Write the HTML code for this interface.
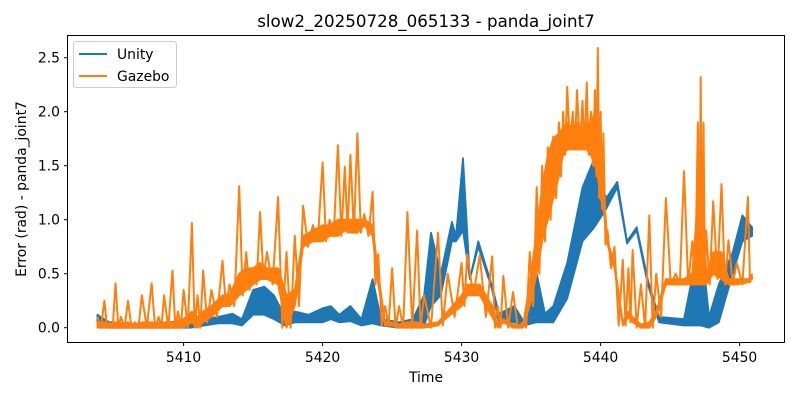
<!DOCTYPE html>
<html><head><meta charset="utf-8">
<style>
html,body{margin:0;padding:0;background:#fff;}
svg{display:block;font-family:"DejaVu Sans","Liberation Sans",sans-serif;}
</style></head>
<body>
<svg id="chart" width="800" height="400" viewBox="0 0 800 400" xmlns="http://www.w3.org/2000/svg">
<rect x="0" y="0" width="800" height="400" fill="#fff"/>
<text x="426" y="27" font-size="16.7" text-anchor="middle" fill="#000">slow2_20250728_065133 - panda_joint7</text>
<g id="series"></g>
<g id="axes"></g>
<rect x="67.5" y="35.5" width="717" height="307" fill="none" stroke="#000" stroke-width="1"/>
<text x="426" y="382" font-size="13.9" text-anchor="middle">Time</text>
<text transform="translate(26,189) rotate(-90)" font-size="13.9" text-anchor="middle">Error (rad) - panda_joint7</text>
<g>
<rect x="73.5" y="41.5" width="103" height="46" rx="3" fill="#fff" fill-opacity="0.8" stroke="#ccc"/>
<g>
<line x1="79" y1="54" x2="107" y2="54" stroke="#1f77b4" stroke-width="2"/>
<text x="117" y="59" font-size="13.9">Unity</text></g>
<g>
<line x1="79" y1="76" x2="107" y2="76" stroke="#ff7f0e" stroke-width="2"/>
<text x="117" y="81" font-size="13.9">Gazebo</text></g>
</g>
</svg>
<script>
const xTicks = [5410, 5420, 5430, 5440, 5450];
const yTicks = [0.0, 0.5, 1.0, 1.5, 2.0, 2.5];
const yTickLabels = ["0.0", "0.5", "1.0", "1.5", "2.0", "2.5"];
const unityT = [5403.8,5404.5,5405.5,5407,5408.5,5409.5,5410.5,5411.5,5412.5,5413.5,5414.2,5415.0,5415.8,5416.5,5417.3,5418.0,5419.0,5420.0,5420.6,5421.2,5422.0,5422.8,5423.6,5424.2,5425.5,5426.5,5427.3,5427.8,5428.5,5429.3,5429.6,5430.1,5430.6,5431.2,5432.2,5432.7,5433.8,5434.5,5435.4,5436.0,5436.6,5437.6,5438.7,5439.5,5440.4,5441.2,5441.9,5442.6,5443.4,5444.2,5446.0,5447.2,5447.8,5448.5,5449.5,5450.2,5450.9];
const unityHi = [0.12,0.06,0.03,0.04,0.04,0.06,0.05,0.08,0.1,0.13,0.08,0.35,0.38,0.3,0.1,0.15,0.12,0.18,0.2,0.12,0.2,0.08,0.45,0.08,0.05,0.08,0.3,0.88,0.5,0.98,0.85,1.57,0.45,0.8,0.38,0.13,0.2,0.05,0.5,0.13,0.2,0.6,1.3,1.55,1.2,1.35,0.8,0.93,0.44,0.1,0.08,0.86,0.1,0.4,0.7,1.04,0.93];
const unityLo = [0.02,0.0,0.0,0.0,0.0,0.0,0.0,0.02,0.04,0.04,0.02,0.12,0.12,0.08,0.02,0.05,0.05,0.05,0.08,0.05,0.06,0.02,0.04,0.02,0.0,0.02,0.02,0.2,0.3,0.8,0.8,0.9,0.45,0.75,0.35,0.05,0.05,0.02,0.05,0.05,0.05,0.27,0.8,0.92,1.1,1.3,0.78,0.9,0.4,0.05,0.02,0.02,0.0,0.05,0.5,0.8,0.85];
const gazeboT = [5403.8,5404.3,5404.7,5405.1,5405.5,5406.0,5406.5,5407.0,5407.7,5408.2,5408.6,5409.2,5409.6,5410.0,5410.6,5411.0,5411.4,5412.0,5412.8,5413.3,5414.0,5414.5,5415.0,5415.5,5416.0,5416.8,5417.4,5418.0,5418.6,5419.3,5420.0,5420.5,5421.1,5421.6,5422.0,5422.5,5423.0,5423.6,5424.0,5424.5,5425.0,5425.5,5426.1,5426.8,5427.3,5428.3,5429.0,5430.0,5430.4,5431.3,5432.2,5432.6,5433.0,5433.7,5434.4,5434.9,5435.4,5435.8,5436.2,5436.6,5437.0,5437.3,5437.6,5438.0,5438.3,5438.7,5439.0,5439.3,5439.6,5439.8,5440.0,5440.2,5440.5,5441.0,5441.6,5442.0,5442.3,5442.9,5443.5,5444.0,5444.7,5445.4,5446.0,5446.6,5447.0,5447.2,5447.4,5447.6,5448.1,5448.7,5449.2,5449.8,5450.6,5450.9];
const gazeboHi = [0.1,0.25,0.05,0.41,0.1,0.25,0.05,0.3,0.41,0.1,0.3,0.53,0.15,0.35,0.97,0.3,0.53,0.35,0.62,0.4,1.31,0.7,0.55,1.07,0.7,1.21,0.7,0.85,1.13,0.95,1.53,1.0,1.69,1.49,1.6,1.8,1.05,1.26,0.68,0.2,0.55,0.2,1.07,0.9,0.3,0.88,0.5,0.6,0.68,0.67,0.66,0.2,0.48,0.33,0.05,0.7,1.3,1.5,1.67,1.77,1.9,2.0,2.23,2.0,2.2,2.1,2.27,2.0,2.2,2.59,2.0,1.8,0.9,0.75,0.63,0.55,0.72,0.4,1.04,0.5,1.2,0.5,1.45,0.8,1.9,2.32,1.9,0.9,1.17,1.33,0.81,0.6,1.21,0.5];
const gazeboMid = [0.05,0.05,0.03,0.05,0.04,0.05,0.03,0.05,0.05,0.04,0.05,0.05,0.05,0.08,0.15,0.1,0.15,0.2,0.3,0.3,0.5,0.55,0.55,0.6,0.55,0.55,0.3,0.35,0.85,0.9,0.95,0.95,1.0,1.0,1.0,1.0,1.0,0.95,0.5,0.05,0.05,0.03,0.05,0.05,0.03,0.05,0.15,0.3,0.4,0.4,0.2,0.03,0.08,0.03,0.02,0.4,0.9,1.3,1.6,1.75,1.8,1.85,1.9,1.85,1.9,1.85,1.9,1.9,2.0,1.9,1.6,1.3,0.8,0.6,0.05,0.15,0.1,0.03,0.05,0.15,0.45,0.45,0.45,0.5,1.2,1.6,1.2,0.5,0.7,0.7,0.45,0.45,0.45,0.47];
const gazeboLo = [0,0,0,0,0,0,0,0,0,0,0,0,0,0,0.05,0,0.05,0.1,0.2,0.2,0.3,0.35,0.4,0.45,0.45,0.4,0.0,0.2,0.75,0.8,0.8,0.85,0.85,0.9,0.88,0.88,0.95,0.85,0.4,0.02,0.02,0.0,0.0,0.0,0.0,0.02,0.1,0.2,0.3,0.3,0.1,0.0,0.05,0.0,0.0,0.2,0.5,0.8,1.0,1.2,1.4,1.6,1.65,1.65,1.65,1.65,1.65,1.6,1.5,1.4,1.2,1.1,0.77,0.55,0.02,0.1,0.05,0.0,0.0,0.1,0.4,0.4,0.4,0.4,0.4,0.4,0.4,0.4,0.5,0.45,0.4,0.4,0.42,0.45];

const NS = "http://www.w3.org/2000/svg";
const xScale = t => 183.6 + (t - 5410) * 13.9;
const yScale = v => 327.7 - v * 108;
const axes = document.getElementById('axes');
const series = document.getElementById('series');

xTicks.forEach(t => {
  const x = xScale(t);
  const l = document.createElementNS(NS, 'line');
  l.setAttribute('x1', x); l.setAttribute('x2', x);
  l.setAttribute('y1', 342.5); l.setAttribute('y2', 346);
  l.setAttribute('stroke', '#000');
  
  
  axes.appendChild(l);
  const tx = document.createElementNS(NS, 'text');
  tx.setAttribute('x', x); tx.setAttribute('y', 362);
  tx.setAttribute('font-size', '13.9'); tx.setAttribute('text-anchor', 'middle');
  tx.textContent = String(t);
  
  
  axes.appendChild(tx);
});
yTicks.forEach((v, i) => {
  const y = yScale(v);
  const l = document.createElementNS(NS, 'line');
  l.setAttribute('x1', 64); l.setAttribute('x2', 67.5);
  l.setAttribute('y1', y); l.setAttribute('y2', y);
  l.setAttribute('stroke', '#000');
  
  
  axes.appendChild(l);
  const tx = document.createElementNS(NS, 'text');
  tx.setAttribute('x', 60); tx.setAttribute('y', y + 5);
  tx.setAttribute('font-size', '13.9'); tx.setAttribute('text-anchor', 'end');
  tx.textContent = yTickLabels[i];
  
  
  axes.appendChild(tx);
});

function drawBand(T, hi, lo, color, name) {
  let pts = [];
  for (let i = 0; i < T.length; i++) pts.push(xScale(T[i]).toFixed(1) + ',' + yScale(hi[i]).toFixed(1));
  for (let i = T.length - 1; i >= 0; i--) pts.push(xScale(T[i]).toFixed(1) + ',' + yScale(lo[i]).toFixed(1));
  const p = document.createElementNS(NS, 'polygon');
  p.setAttribute('points', pts.join(' '));
  p.setAttribute('fill', color);
  p.setAttribute('stroke', color);
  p.setAttribute('stroke-width', '1.8');
  p.setAttribute('stroke-linejoin', 'round');
  
  
  series.appendChild(p);
}
function drawZigzag(T, hi, lo, color, name) {
  let pts = [];
  for (let i = 0; i < T.length; i++) {
    pts.push(xScale(T[i]).toFixed(1) + ',' + yScale(hi[i]).toFixed(1));
    if (i < T.length - 1) {
      const tm = (T[i] + T[i + 1]) / 2;
      const lm = Math.min(lo[i], lo[i + 1]);
      pts.push(xScale(tm).toFixed(1) + ',' + yScale(lm).toFixed(1));
    }
  }
  const p = document.createElementNS(NS, 'polyline');
  p.setAttribute('points', pts.join(' '));
  p.setAttribute('fill', 'none');
  p.setAttribute('stroke', color);
  p.setAttribute('stroke-width', '2');
  p.setAttribute('stroke-linejoin', 'round');
  
  
  series.appendChild(p);
}
drawBand(unityT, unityHi, unityLo, '#1f77b4', 'unity-series');
drawBand(gazeboT, gazeboMid, gazeboLo, '#ff7f0e', 'gazebo-dense-band');
drawZigzag(gazeboT, gazeboHi, gazeboLo, '#ff7f0e', 'gazebo-series');
</script>
</body></html>
